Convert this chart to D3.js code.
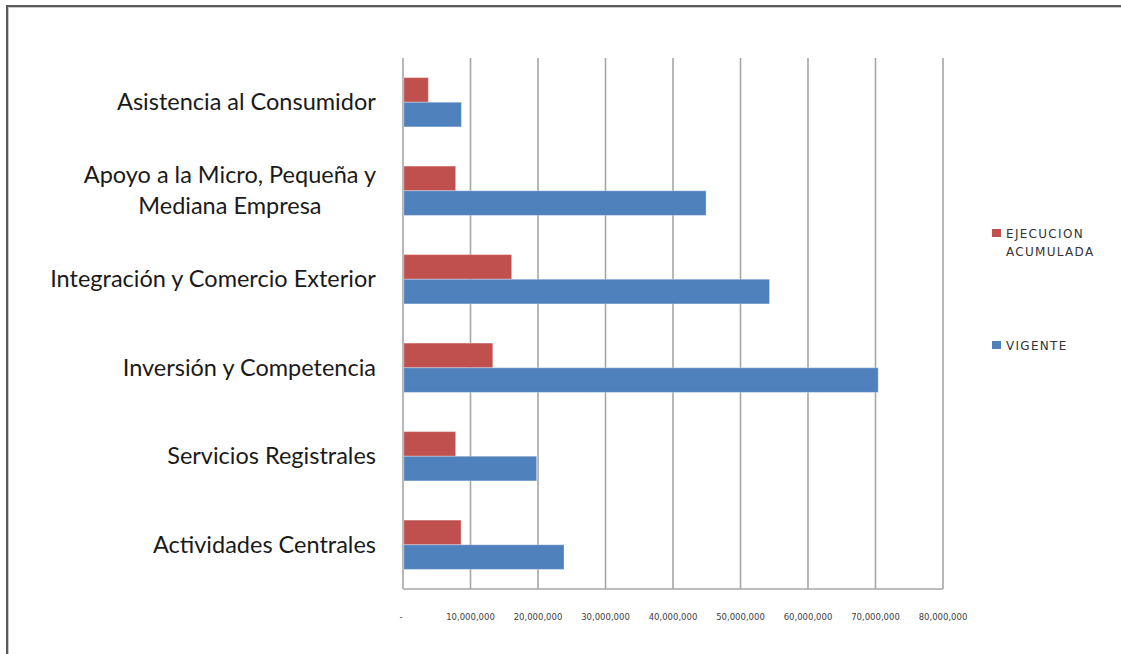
<!DOCTYPE html>
<html><head><meta charset="utf-8">
<script src="https://cdn.jsdelivr.net/npm/d3@7"></script>
<style>html,body{margin:0;padding:0;background:#fff;overflow:hidden}</style>
</head><body>
<svg id="c" width="1121" height="654"></svg>
<script>
const categories = ["Asistencia al Consumidor","Apoyo a la Micro, Pequeña y|Mediana Empresa","Integración y Comercio  Exterior","Inversión y Competencia","Servicios Registrales","Actividades Centrales"];
const seriesNames = ["EJECUCION|ACUMULADA","VIGENTE"];
const ejecucion = [3750000, 7800000, 16100000, 13300000, 7800000, 8600000];
const vigente = [8650000, 44900000, 54300000, 70400000, 19800000, 23850000];
const ticks = [0,10000000,20000000,30000000,40000000,50000000,60000000,70000000,80000000];
const tickLabels = ["-","10,000,000","20,000,000","30,000,000","40,000,000","50,000,000","60,000,000","70,000,000","80,000,000"];
const colors = ["#C0504D","#4F81BD"];

const svg = d3.select("#c");
// frame
svg.append("line").attr("x1",6).attr("x2",1121).attr("y1",6).attr("y2",6).attr("stroke","#5a5a5a").attr("stroke-width",2);
svg.append("line").attr("x1",6).attr("x2",1121).attr("y1",7.5).attr("y2",7.5).attr("stroke","#c8c8c8").attr("stroke-width",1);
svg.append("line").attr("x1",7).attr("x2",7).attr("y1",5).attr("y2",654).attr("stroke","#5a5a5a").attr("stroke-width",2);
svg.append("line").attr("x1",8.5).attr("x2",8.5).attr("y1",7).attr("y2",654).attr("stroke","#c8c8c8").attr("stroke-width",1);

const x = d3.scaleLinear().domain([0,80000000]).range([403,943]);
const y0 = d3.scaleBand().domain(categories).range([58,589]).paddingInner(0.443).paddingOuter(0.2215);
const y1 = d3.scaleBand().domain([0,1]).range([0,y0.bandwidth()]);

// gridlines
svg.append("g").selectAll("line").data(ticks).join("line")
  .attr("x1",d=>x(d)).attr("x2",d=>x(d)).attr("y1",58).attr("y2",589)
  .attr("stroke","#a6a6a6").attr("stroke-width",1.6);
svg.append("line").attr("x1",x(0)).attr("x2",x(80000000)).attr("y1",589).attr("y2",589)
  .attr("stroke","#a6a6a6").attr("stroke-width",1.6);

// bars
const data = [ejecucion, vigente];
data.forEach((vals,si)=>{
  svg.append("g").selectAll("rect").data(vals).join("rect")
    .attr("x",x(0)+0.8).attr("y",(d,i)=>y0(categories[i])+y1(si))
    .attr("width",d=>x(d)-x(0)-0.8).attr("height",y1.bandwidth())
    .attr("fill",colors[si]).attr("stroke","rgba(255,255,255,0.3)").attr("stroke-width",1);
});

// x tick labels
svg.append("g").selectAll("text").data(ticks).join("text")
  .attr("x",(d,i)=>i===0? x(d)-2 : x(d)).attr("y",620)
  .attr("text-anchor","middle").attr("font-family","DejaVu Sans").attr("font-size",8.5)
  .attr("fill","#404040").text((d,i)=>tickLabels[i]);

// category labels
categories.forEach(c=>{
  const lines = c.split("|");
  const cy = y0(c)+y0.bandwidth()/2;
  const lh = 31;
  const g = svg.append("g");
  const t = g.append("text").attr("font-family","Lato").attr("font-size",23.5).attr("fill","#1a1a1a");
  lines.forEach((l,i)=>{
    t.append("tspan").attr("x",0).attr("y",cy + 8 + (i-(lines.length-1)/2)*lh).text(l);
  });
  const w = t.node().getBBox().width;
  t.attr("text-anchor","middle");
  t.selectAll("tspan").attr("x",376 - w/2);
});

// legend
const leg = [{y:233, i:0},{y:345, i:1}];
leg.forEach(o=>{
  svg.append("rect").attr("x",992).attr("y",o.y-4).attr("width",9).attr("height",8).attr("fill",colors[o.i]);
  const lines = seriesNames[o.i].split("|");
  const t = svg.append("text").attr("font-family","DejaVu Sans").attr("font-size",12)
    .attr("fill","#333").attr("letter-spacing",1.3);
  lines.forEach((l,k)=>t.append("tspan").attr("x",1006).attr("y",o.y+5+k*18).text(l));
});
</script>
</body></html>
